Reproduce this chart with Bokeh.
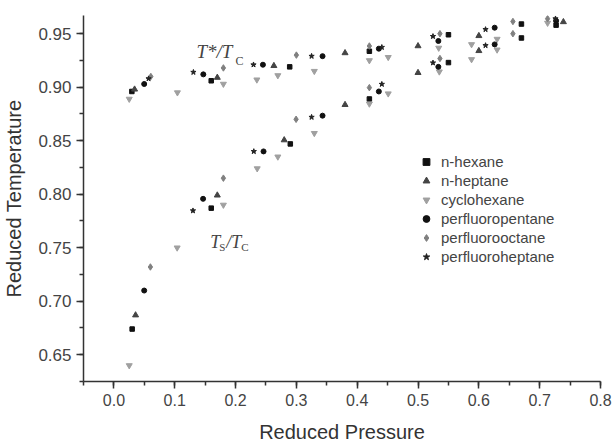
from bokeh.plotting import figure
from bokeh.models import Range1d, SingleIntervalTicker, NumeralTickFormatter, Label
from bokeh.embed import file_html
from bokeh.resources import INLINE

# ---- data (reduced pressure, reduced temperature) ----
hexane_p = [0.0295, 0.030, 0.160, 0.160, 0.289, 0.290, 0.420, 0.420, 0.550, 0.550, 0.670, 0.670, 0.727]
hexane_t = [0.896, 0.674, 0.906, 0.787, 0.919, 0.847, 0.9336, 0.889, 0.949, 0.923, 0.959, 0.946, 0.958]

heptane_p = [0.034, 0.0356, 0.170, 0.170, 0.263, 0.280, 0.380, 0.380, 0.500, 0.500, 0.600, 0.600, 0.739]
heptane_t = [0.898, 0.687, 0.909, 0.799, 0.920, 0.8506, 0.932, 0.8836, 0.9385, 0.9135, 0.948, 0.934, 0.961]

cyclo_p = [0.0252, 0.0252, 0.1044, 0.104, 0.180, 0.180, 0.235, 0.2356, 0.2695, 0.2695,
           0.3295, 0.3295, 0.420, 0.420, 0.451, 0.451, 0.534, 0.535, 0.588, 0.588, 0.630, 0.630, 0.713]
cyclo_t = [0.889, 0.640, 0.895, 0.750, 0.903, 0.790, 0.907, 0.824, 0.911, 0.835,
           0.915, 0.857, 0.925, 0.8845, 0.928, 0.894, 0.9367, 0.9145, 0.940, 0.926, 0.945, 0.935, 0.960]

pfpentane_p = [0.0498, 0.0498, 0.147, 0.1466, 0.245, 0.246, 0.343, 0.343, 0.4356, 0.4356, 0.5334, 0.5334, 0.626, 0.626, 0.727]
pfpentane_t = [0.903, 0.710, 0.912, 0.7957, 0.921, 0.840, 0.929, 0.8734, 0.936, 0.896, 0.9432, 0.919, 0.9556, 0.940, 0.962]

pfoctane_p = [0.0607, 0.060, 0.180, 0.180, 0.300, 0.2995, 0.420, 0.420, 0.536, 0.536, 0.656, 0.656, 0.713]
pfoctane_t = [0.910, 0.732, 0.918, 0.815, 0.930, 0.870, 0.9385, 0.8996, 0.950, 0.9268, 0.9614, 0.950, 0.964]

pfheptane_p = [0.057, 0.1307, 0.130, 0.2295, 0.230, 0.325, 0.325, 0.4405, 0.4405, 0.5246, 0.5246, 0.611, 0.611, 0.726]
pfheptane_t = [0.908, 0.914, 0.7846, 0.921, 0.840, 0.929, 0.872, 0.9373, 0.9028, 0.9475, 0.9228, 0.954, 0.939, 0.964]

x_ticks_interval = 0.1
y_ticks_interval = 0.05

FONT = "Liberation Sans"

p = figure(width=612, height=445, output_backend="svg", toolbar_location=None,
           x_range=Range1d(-0.05, 0.8), y_range=Range1d(0.625, 0.967),
           min_border_left=82, min_border_right=12, min_border_top=15, min_border_bottom=61)
p.outline_line_color = None
p.grid.visible = False
p.background_fill_color = "white"
p.border_fill_color = "white"

p.xaxis.ticker = SingleIntervalTicker(interval=x_ticks_interval, num_minor_ticks=2)
p.yaxis.ticker = SingleIntervalTicker(interval=y_ticks_interval, num_minor_ticks=2)
p.xaxis.formatter = NumeralTickFormatter(format="0.0")
p.yaxis.formatter = NumeralTickFormatter(format="0.00")

for ax in (p.xaxis[0], p.yaxis[0]):
    ax.axis_line_color = "#333333"
    ax.axis_line_width = 1.5
    ax.major_tick_line_color = "#333333"
    ax.minor_tick_line_color = "#333333"
    ax.major_tick_line_width = 1.5
    ax.minor_tick_line_width = 1.5
    ax.major_tick_out = 7
    ax.major_tick_in = 0
    ax.minor_tick_out = 4
    ax.minor_tick_in = 0
    ax.major_label_text_font = FONT
    ax.major_label_text_font_size = "16px"
    ax.major_label_text_color = "#444444"
    ax.axis_label_text_font = FONT
    ax.axis_label_text_font_size = "20px"
    ax.axis_label_text_font_style = "normal"
    ax.axis_label_text_color = "#333333"

p.yaxis.major_label_text_font_size = "17px"
p.xaxis.axis_label = "Reduced Pressure"
p.yaxis.axis_label = "Reduced Temperature"
p.xaxis.axis_label_standoff = 12
p.yaxis.axis_label_standoff = 10

p.scatter(hexane_p, hexane_t, marker="square", size=4.5, color="#111111", legend_label="n-hexane")
p.scatter(heptane_p, heptane_t, marker="triangle", size=6, color="#444444", legend_label="n-heptane")
p.scatter(cyclo_p, cyclo_t, marker="inverted_triangle", size=6, color="#a0a0a0", legend_label="cyclohexane")
p.scatter(pfpentane_p, pfpentane_t, marker="circle", size=5, color="#111111", legend_label="perfluoropentane")
p.scatter(pfoctane_p, pfoctane_t, marker="diamond", size=6.5, color="#808080", legend_label="perfluorooctane")
p.scatter(pfheptane_p, pfheptane_t, marker="star", size=5.5, color="#222222", legend_label="perfluoroheptane")

leg = p.legend[0]
leg.location = (333, 116)
leg.border_line_color = None
leg.background_fill_alpha = 0
leg.padding = 0
leg.margin = 0
leg.spacing = 2
leg.label_height = 17
leg.glyph_height = 17
leg.glyph_width = 20
leg.label_standoff = 5
leg.label_text_font = FONT
leg.label_text_font_size = "15px"
leg.label_text_color = "#444444"

# ---- annotations: T*/T_C and T_S/T_C ----
ann_upper = (0.1356, 0.933)
ann_lower = (0.1585, 0.7552)
SERIF = "Liberation Serif"
col = "#444444"

def lab(x, y, txt, dx=0, dy=0, size="18px", style="italic"):
    p.add_layout(Label(x=x, y=y, text=txt, x_offset=dx, y_offset=dy,
                       text_font=SERIF, text_font_size=size, text_font_style=style,
                       text_color=col, text_baseline="alphabetic", text_align="left"))

lab(ann_upper[0], ann_upper[1], "T*/T", size="19px")
lab(ann_upper[0], ann_upper[1], "C", dx=39, dy=-9, size="12px", style="normal")

lab(ann_lower[0], ann_lower[1], "T", size="18px")
lab(ann_lower[0], ann_lower[1], "S", dx=9, dy=-5, size="11px", style="normal")
lab(ann_lower[0], ann_lower[1], "/T", dx=16, size="18px")
lab(ann_lower[0], ann_lower[1], "C", dx=31, dy=-5, size="11px", style="normal")

open("out.html", "w").write(file_html(p, INLINE))
